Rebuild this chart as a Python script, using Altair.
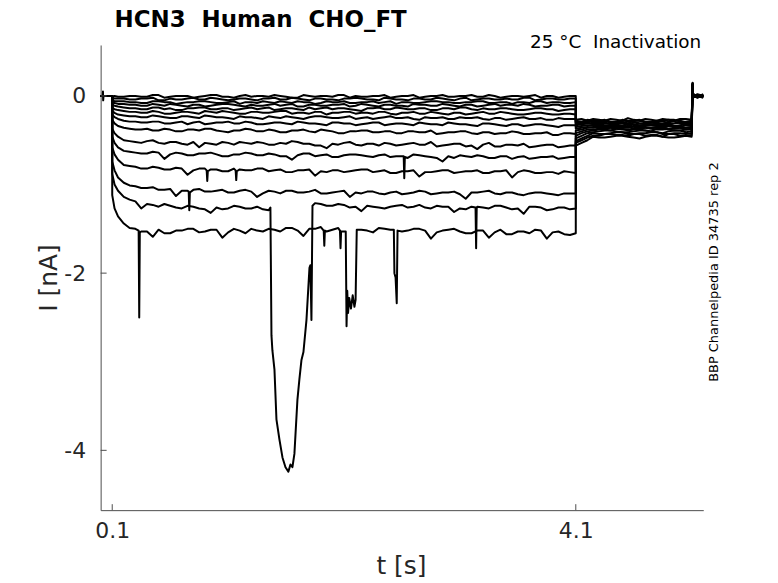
import altair as alt
import pandas as pd

TITLE = "HCN3\u00a0 Human\u00a0 CHO_FT"
SUBTITLE = "25 °C\u00a0 Inactivation"
SIDE = "BBP Channelpedia ID 34735 rep 2"
X_LABEL = "t [s]"
Y_LABEL = "I [nA]"
X_TICKS = [0.1, 4.1]
Y_TICKS = [0, -2, -4]
X_DOMAIN = [0.0, 5.2]
Y_DOMAIN = [-4.675, 0.575]

T_ONSET = [0.1, 0.12, 0.15]
T_MAIN = [0.2, 0.3, 0.4, 0.5, 0.6, 0.7, 0.8, 0.9, 1.0, 1.1, 1.2, 1.3, 1.4, 1.5, 1.6, 1.7, 1.8, 1.9, 2.0, 2.1,
          2.2, 2.3, 2.4, 2.5, 2.6, 2.7, 2.8, 2.9, 3.0, 3.1, 3.2, 3.3, 3.4, 3.5, 3.6, 3.7, 3.8, 3.9, 4.0, 4.1]
T_MID = [0.25, 0.35, 0.45, 0.55, 0.65, 0.75, 0.85, 0.95, 1.05, 1.15, 1.25, 1.35, 1.45, 1.55, 1.65, 1.75, 1.85,
         1.95, 2.05, 2.15, 2.25, 2.35, 2.45, 2.55, 2.65, 2.75, 2.85, 2.95, 3.05, 3.15, 3.25, 3.35, 3.45, 3.55,
         3.65, 3.75, 3.85, 3.95, 4.05]
T_TAIL = [4.1, 4.15, 4.2, 4.3, 4.4, 4.5, 4.6, 4.7, 4.8, 4.9, 5.0, 5.1]
T_TAIL_MID = [4.25, 4.35, 4.45, 4.55, 4.65, 4.75, 4.85, 4.95, 5.05]
T_END = [5.108, 5.112, 5.15, 5.2]

BLIP = [(0.018, 0.0), (0.02, 0.05), (0.022, -0.05), (0.025, 0.0)]

ONSET = [
    [-0.01, 0.0, -0.01],
    [-0.02, -0.03, -0.03],
    [-0.05, -0.06, -0.06],
    [-0.07, -0.08, -0.09],
    [-0.10, -0.11, -0.12],
    [-0.13, -0.15, -0.16],
    [-0.17, -0.19, -0.21],
    [-0.21, -0.24, -0.26],
    [-0.27, -0.31, -0.34],
    [-0.37, -0.42, -0.46],
    [-0.46, -0.53, -0.58],
    [-0.58, -0.66, -0.72],
    [-0.74, -0.84, -0.92],
    [-0.88, -1.00, -1.07],
    [-1.12, -1.27, -1.36],
]

MAIN = [
    [-0.01, 0.00, -0.01, 0.01, -0.01, 0.00, -0.02, 0.00, 0.01, -0.01, 0.00, -0.01, 0.00, 0.01, -0.01, -0.02, 0.00, 0.00, -0.01, 0.01,
     0.00, -0.01, 0.00, -0.02, 0.00, 0.01, -0.01, 0.00, -0.01, 0.00, 0.01, -0.01, 0.00, -0.01, 0.00, 0.00, -0.02, 0.00, -0.01, 0.00],
    [-0.03, -0.04, -0.03, -0.05, -0.03, -0.04, -0.02, -0.04, -0.03, -0.05, -0.03, -0.04, -0.03, -0.02, -0.04, -0.03, -0.05, -0.03, -0.04, -0.03,
     -0.02, -0.04, -0.05, -0.03, -0.04, -0.03, -0.04, -0.02, -0.04, -0.03, -0.05, -0.03, -0.04, -0.03, -0.04, -0.02, -0.04, -0.03, -0.04, -0.03],
    [-0.06, -0.07, -0.08, -0.06, -0.07, -0.08, -0.07, -0.06, -0.08, -0.07, -0.09, -0.07, -0.06, -0.08, -0.07, -0.06, -0.07, -0.08, -0.07, -0.06,
     -0.08, -0.07, -0.08, -0.06, -0.07, -0.08, -0.07, -0.06, -0.07, -0.08, -0.07, -0.06, -0.08, -0.07, -0.07, -0.08, -0.06, -0.07, -0.08, -0.07],
    [-0.09, -0.10, -0.11, -0.10, -0.09, -0.11, -0.10, -0.12, -0.10, -0.09, -0.11, -0.10, -0.11, -0.09, -0.10, -0.12, -0.10, -0.11, -0.10, -0.09,
     -0.11, -0.10, -0.12, -0.10, -0.11, -0.09, -0.10, -0.11, -0.10, -0.12, -0.10, -0.11, -0.09, -0.10, -0.11, -0.10, -0.11, -0.10, -0.12, -0.11],
    [-0.13, -0.14, -0.15, -0.13, -0.14, -0.16, -0.14, -0.13, -0.15, -0.14, -0.15, -0.13, -0.14, -0.16, -0.14, -0.15, -0.13, -0.14, -0.15, -0.14,
     -0.16, -0.14, -0.13, -0.15, -0.14, -0.15, -0.14, -0.16, -0.14, -0.13, -0.15, -0.14, -0.15, -0.14, -0.16, -0.15, -0.14, -0.15, -0.16, -0.15],
    [-0.17, -0.18, -0.19, -0.18, -0.20, -0.18, -0.19, -0.17, -0.19, -0.18, -0.20, -0.18, -0.19, -0.18, -0.17, -0.19, -0.20, -0.18, -0.19, -0.18,
     -0.20, -0.19, -0.18, -0.20, -0.19, -0.18, -0.20, -0.19, -0.21, -0.19, -0.20, -0.18, -0.20, -0.19, -0.21, -0.20, -0.19, -0.21, -0.20, -0.21],
    [-0.22, -0.23, -0.24, -0.23, -0.25, -0.23, -0.24, -0.22, -0.24, -0.25, -0.23, -0.24, -0.26, -0.24, -0.23, -0.25, -0.24, -0.23, -0.25, -0.24,
     -0.26, -0.24, -0.25, -0.23, -0.25, -0.26, -0.24, -0.25, -0.26, -0.24, -0.25, -0.26, -0.25, -0.27, -0.25, -0.26, -0.25, -0.27, -0.26, -0.26],
    [-0.28, -0.29, -0.30, -0.29, -0.31, -0.29, -0.30, -0.32, -0.30, -0.29, -0.31, -0.30, -0.32, -0.30, -0.31, -0.29, -0.31, -0.32, -0.30, -0.31,
     -0.33, -0.31, -0.30, -0.32, -0.31, -0.33, -0.31, -0.32, -0.30, -0.32, -0.33, -0.31, -0.32, -0.34, -0.32, -0.33, -0.32, -0.34, -0.33, -0.33],
    [-0.36, -0.38, -0.37, -0.39, -0.38, -0.40, -0.38, -0.37, -0.39, -0.41, -0.39, -0.38, -0.40, -0.39, -0.41, -0.39, -0.40, -0.38, -0.40, -0.42,
     -0.40, -0.39, -0.41, -0.40, -0.42, -0.40, -0.41, -0.43, -0.41, -0.40, -0.42, -0.41, -0.43, -0.42, -0.41, -0.43, -0.42, -0.44, -0.42, -0.43],
    [-0.50, -0.52, -0.51, -0.53, -0.52, -0.54, -0.52, -0.53, -0.55, -0.53, -0.52, -0.54, -0.53, -0.55, -0.54, -0.52, -0.54, -0.56, -0.54, -0.53,
     -0.55, -0.54, -0.56, -0.54, -0.55, -0.53, -0.55, -0.57, -0.55, -0.54, -0.56, -0.55, -0.57, -0.55, -0.56, -0.58, -0.56, -0.55, -0.57, -0.56],
    [-0.62, -0.64, -0.65, -0.64, -0.66, -0.65, -0.67, -0.65, -0.66, -0.68, -0.66, -0.65, -0.67, -0.66, -0.68, -0.67, -0.65, -0.67, -0.69, -0.67,
     -0.66, -0.68, -0.67, -0.69, -0.68, -0.66, -0.68, -0.70, -0.68, -0.67, -0.69, -0.68, -0.70, -0.68, -0.69, -0.71, -0.69, -0.68, -0.70, -0.69],
    [-0.78, -0.80, -0.82, -0.81, -0.83, -0.82, -0.84, -0.82, -0.83, -0.85, -0.83, -0.84, -0.82, -0.84, -0.86, -0.84, -0.83, -0.85, -0.84, -0.86,
     -0.84, -0.83, -0.85, -0.87, -0.85, -0.84, -0.86, -0.85, -0.84, -0.86, -0.85, -0.87, -0.85, -0.84, -0.86, -0.85, -0.87, -0.86, -0.85, -0.87],
    [-0.98, -1.02, -1.04, -1.06, -1.05, -1.07, -1.06, -1.08, -1.07, -1.09, -1.07, -1.08, -1.10, -1.08, -1.07, -1.09, -1.08, -1.10, -1.09, -1.07,
     -1.09, -1.08, -1.10, -1.09, -1.11, -1.09, -1.08, -1.10, -1.09, -1.11, -1.09, -1.08, -1.10, -1.09, -1.11, -1.10, -1.09, -1.11, -1.10, -1.10],
    [-1.14, -1.19, -1.22, -1.25, -1.24, -1.27, -1.25, -1.28, -1.26, -1.27, -1.25, -1.27, -1.28, None, None, None, None, -1.22, -1.24, -1.23,
     -1.25, -1.24, -1.26, -1.25, -1.23, -1.25, -1.26, -1.24, -1.25, -1.27, -1.25, -1.26, -1.24, -1.26, -1.27, -1.25, -1.26, -1.28, -1.26, -1.27],
    [-1.44, -1.50, -1.53, -1.51, -1.55, -1.52, -1.50, -1.53, -1.51, -1.54, -1.52, -1.50, -1.53, -1.51, -1.49, -1.52, -1.50, -1.48, -1.51, -1.53,
     None, -1.52, -1.49, -1.51, -1.53, -1.50, -1.52, -1.54, -1.51, -1.53, -1.55, -1.52, -1.54, -1.56, -1.53, -1.55, -1.52, -1.54, -1.56, -1.55],
]

MID = [
    [0.00, -0.01, 0.01, -0.02, 0.00, 0.00, -0.01, 0.01, -0.01, -0.02, 0.01, 0.00, -0.01, 0.00, -0.02, 0.01, -0.01, 0.00, 0.01, -0.02,
     -0.01, 0.00, 0.01, -0.01, 0.00, -0.02, 0.00, 0.01, -0.01, 0.00, -0.01, 0.01, -0.02, 0.00, -0.01, 0.01, 0.00, -0.02, 0.00],
    [-0.04, -0.03, -0.02, -0.05, -0.04, -0.03, -0.04, -0.02, -0.04, -0.04, -0.03, -0.05, -0.03, -0.04, -0.02, -0.04, -0.03, -0.04, -0.05, -0.03,
     -0.03, -0.04, -0.02, -0.04, -0.05, -0.03, -0.04, -0.03, -0.05, -0.02, -0.04, -0.03, -0.04, -0.04, -0.02, -0.05, -0.03, -0.04, -0.03],
    [-0.07, -0.08, -0.06, -0.07, -0.09, -0.07, -0.06, -0.07, -0.08, -0.06, -0.07, -0.08, -0.07, -0.06, -0.08, -0.07, -0.09, -0.06, -0.07, -0.08,
     -0.07, -0.06, -0.07, -0.09, -0.07, -0.08, -0.06, -0.07, -0.08, -0.07, -0.06, -0.08, -0.07, -0.09, -0.07, -0.06, -0.08, -0.07, -0.08],
    [-0.10, -0.11, -0.09, -0.11, -0.10, -0.12, -0.10, -0.11, -0.09, -0.10, -0.12, -0.11, -0.10, -0.11, -0.09, -0.12, -0.10, -0.11, -0.10, -0.12,
     -0.09, -0.11, -0.10, -0.11, -0.12, -0.10, -0.11, -0.09, -0.11, -0.10, -0.12, -0.10, -0.11, -0.10, -0.09, -0.12, -0.11, -0.10, -0.11],
    [-0.14, -0.15, -0.13, -0.15, -0.16, -0.14, -0.13, -0.15, -0.14, -0.16, -0.14, -0.15, -0.13, -0.15, -0.14, -0.16, -0.15, -0.13, -0.14, -0.15,
     -0.17, -0.14, -0.15, -0.13, -0.15, -0.14, -0.16, -0.14, -0.15, -0.13, -0.16, -0.15, -0.14, -0.15, -0.16, -0.14, -0.15, -0.17, -0.15],
    [-0.18, -0.19, -0.17, -0.20, -0.19, -0.18, -0.20, -0.18, -0.17, -0.19, -0.20, -0.18, -0.19, -0.17, -0.20, -0.19, -0.18, -0.21, -0.19, -0.18,
     -0.19, -0.20, -0.18, -0.21, -0.19, -0.20, -0.18, -0.20, -0.19, -0.21, -0.19, -0.20, -0.18, -0.20, -0.21, -0.19, -0.20, -0.21, -0.20],
    [-0.23, -0.24, -0.22, -0.24, -0.25, -0.23, -0.25, -0.23, -0.24, -0.26, -0.24, -0.25, -0.23, -0.25, -0.24, -0.26, -0.23, -0.24, -0.25, -0.23,
     -0.25, -0.26, -0.24, -0.25, -0.24, -0.27, -0.25, -0.24, -0.26, -0.25, -0.24, -0.27, -0.25, -0.26, -0.24, -0.26, -0.27, -0.25, -0.26],
    [-0.29, -0.30, -0.29, -0.31, -0.30, -0.32, -0.29, -0.31, -0.30, -0.31, -0.29, -0.32, -0.31, -0.30, -0.32, -0.30, -0.31, -0.33, -0.30, -0.31,
     -0.32, -0.30, -0.33, -0.31, -0.32, -0.30, -0.32, -0.33, -0.31, -0.32, -0.34, -0.31, -0.33, -0.32, -0.34, -0.32, -0.33, -0.35, -0.33],
    [-0.37, -0.38, -0.39, -0.37, -0.40, -0.38, -0.39, -0.37, -0.40, -0.39, -0.37, -0.40, -0.38, -0.41, -0.39, -0.38, -0.41, -0.39, -0.42, -0.40,
     -0.39, -0.41, -0.40, -0.42, -0.40, -0.41, -0.39, -0.42, -0.41, -0.40, -0.43, -0.41, -0.42, -0.40, -0.43, -0.42, -0.41, -0.44, -0.42],
    [-0.51, -0.53, -0.50, -0.54, -0.52, -0.55, -0.58, -0.54, -0.52, -0.55, -0.53, -0.52, -0.55, -0.53, -0.51, -0.54, -0.56, -0.59, -0.55, -0.52,
     -0.56, -0.54, -0.53, -0.56, -0.54, -0.55, -0.52, -0.56, -0.54, -0.57, -0.60, -0.53, -0.57, -0.55, -0.54, -0.57, -0.55, -0.58, -0.56],
    [-0.63, -0.65, -0.63, -0.71, -0.64, -0.67, -0.65, -0.64, -0.68, -0.66, -0.64, -0.67, -0.65, -0.68, -0.72, -0.65, -0.68, -0.66, -0.69, -0.66,
     -0.67, -0.69, -0.66, -0.68, -0.70, -0.67, -0.69, -0.74, -0.70, -0.68, -0.67, -0.70, -0.68, -0.71, -0.68, -0.70, -0.69, -0.71, -0.69],
    [-0.79, -0.82, -0.80, -0.83, -0.81, -0.89, -0.82, -0.83, -0.85, -0.82, -0.84, -0.82, -0.85, -0.83, -0.86, -0.84, -0.90, -0.86, -0.84, -0.85,
     -0.83, -0.86, -0.84, -0.87, -0.85, -0.91, -0.86, -0.84, -0.87, -0.85, -0.84, -0.87, -0.85, -0.92, -0.84, -0.87, -0.86, -0.88, -0.86],
    [-1.01, -1.04, -1.03, -1.06, -1.13, -1.07, -1.05, -1.08, -1.06, -1.09, -1.06, -1.14, -1.07, -1.10, -1.07, -1.09, -1.06, -1.10, -1.08, -1.14,
     -1.10, -1.08, -1.11, -1.08, -1.10, -1.07, -1.11, -1.09, -1.08, -1.16, -1.09, -1.07, -1.11, -1.09, -1.12, -1.09, -1.10, -1.12, -1.10],
    [-1.17, -1.27, -1.23, -1.22, -1.26, -1.24, -1.27, -1.32, -1.28, -1.24, -1.27, -1.25, -1.29, None, None, None, -1.21, -1.24, -1.22, -1.26,
     -1.30, -1.25, -1.27, -1.24, -1.26, -1.23, -1.27, -1.25, -1.31, -1.28, -1.25, -1.27, -1.24, -1.28, -1.33, -1.25, -1.29, -1.26, -1.28],
    [-1.49, -1.53, -1.59, -1.55, -1.52, -1.50, -1.54, -1.51, -1.60, -1.50, -1.55, -1.52, -1.50, -1.53, -1.49, -1.58, -1.50, -1.53, -1.49, None,
     -1.51, -1.54, -1.50, None, -1.52, -1.50, -1.61, -1.52, -1.50, -1.55, -1.52, -1.60, -1.51, -1.56, -1.53, -1.51, -1.61, -1.53, -1.57],
]

EXTRA = {
    10: [(2.615, -0.68), (2.62, -0.93), (2.625, -0.69)],
    11: [(0.915, -0.84), (0.92, -0.96), (0.925, -0.85), (1.165, -0.84), (1.17, -0.95), (1.175, -0.85)],
    12: [(0.76, -1.08), (0.765, -1.29), (0.77, -1.09)],
    13: [(1.465, -1.26), (1.474, -2.70), (1.482, -2.87), (1.50, -3.09), (1.517, -3.65), (1.543, -3.88),
         (1.569, -4.08), (1.595, -4.19), (1.62, -4.24), (1.638, -4.16), (1.655, -4.19), (1.672, -4.04),
         (1.698, -3.43), (1.715, -3.20), (1.733, -2.98), (1.75, -2.89), (1.776, -2.53), (1.802, -1.94),
         (1.81, -1.91), (1.819, -2.53), (1.828, -1.24),
         (3.235, -1.26), (3.24, -1.72), (3.245, -1.27)],
    14: [(0.328, -1.52), (0.333, -2.50), (0.338, -1.54),
         (1.925, -1.52), (1.93, -1.69), (1.935, -1.52),
         (2.065, -1.52), (2.07, -1.72), (2.075, -1.53),
         (2.115, -1.53), (2.122, -2.60), (2.128, -2.20), (2.135, -2.45), (2.145, -2.28), (2.16, -2.40),
         (2.175, -2.25), (2.19, -2.38), (2.20, -2.30), (2.21, -1.51),
         (2.53, -1.51), (2.535, -2.00), (2.545, -2.05), (2.555, -2.34), (2.562, -1.52)],
}

TAIL = [
    [-0.27, -0.26, -0.28, -0.27, -0.26, -0.28, -0.27, -0.26, -0.28, -0.27, -0.26, -0.27],
    [-0.28, -0.29, -0.27, -0.28, -0.29, -0.27, -0.28, -0.29, -0.28, -0.27, -0.29, -0.28],
    [-0.29, -0.30, -0.28, -0.29, -0.30, -0.29, -0.28, -0.30, -0.29, -0.30, -0.28, -0.29],
    [-0.30, -0.31, -0.29, -0.30, -0.31, -0.30, -0.29, -0.31, -0.30, -0.29, -0.31, -0.30],
    [-0.31, -0.32, -0.30, -0.31, -0.32, -0.31, -0.30, -0.32, -0.31, -0.32, -0.30, -0.31],
    [-0.33, -0.32, -0.31, -0.32, -0.33, -0.31, -0.32, -0.33, -0.32, -0.31, -0.33, -0.32],
    [-0.35, -0.34, -0.33, -0.34, -0.33, -0.34, -0.35, -0.33, -0.34, -0.33, -0.35, -0.34],
    [-0.37, -0.36, -0.35, -0.34, -0.35, -0.36, -0.34, -0.35, -0.36, -0.34, -0.35, -0.35],
    [-0.39, -0.38, -0.36, -0.35, -0.36, -0.35, -0.37, -0.36, -0.35, -0.37, -0.36, -0.36],
    [-0.42, -0.40, -0.38, -0.37, -0.36, -0.38, -0.37, -0.36, -0.38, -0.37, -0.36, -0.37],
    [-0.45, -0.42, -0.40, -0.38, -0.39, -0.37, -0.38, -0.39, -0.37, -0.38, -0.39, -0.38],
    [-0.48, -0.45, -0.42, -0.40, -0.39, -0.41, -0.40, -0.39, -0.41, -0.40, -0.39, -0.40],
    [-0.51, -0.48, -0.45, -0.43, -0.42, -0.41, -0.43, -0.42, -0.41, -0.43, -0.42, -0.42],
    [-0.53, -0.50, -0.47, -0.45, -0.43, -0.44, -0.43, -0.45, -0.44, -0.43, -0.45, -0.44],
    [-0.56, -0.53, -0.50, -0.47, -0.46, -0.45, -0.47, -0.46, -0.45, -0.47, -0.46, -0.46],
]

TAIL_MID = [
    [-0.26, -0.28, -0.27, -0.25, -0.28, -0.27, -0.26, -0.28, -0.26],
    [-0.28, -0.27, -0.29, -0.28, -0.27, -0.29, -0.28, -0.27, -0.29],
    [-0.30, -0.28, -0.29, -0.31, -0.28, -0.30, -0.29, -0.28, -0.30],
    [-0.29, -0.31, -0.30, -0.29, -0.31, -0.30, -0.32, -0.29, -0.31],
    [-0.32, -0.30, -0.31, -0.33, -0.31, -0.30, -0.32, -0.31, -0.30],
    [-0.31, -0.33, -0.32, -0.31, -0.33, -0.32, -0.31, -0.34, -0.32],
    [-0.33, -0.35, -0.34, -0.32, -0.35, -0.33, -0.34, -0.35, -0.33],
    [-0.36, -0.34, -0.35, -0.36, -0.34, -0.36, -0.35, -0.34, -0.36],
    [-0.35, -0.37, -0.36, -0.34, -0.37, -0.36, -0.35, -0.37, -0.36],
    [-0.38, -0.36, -0.37, -0.38, -0.36, -0.37, -0.38, -0.36, -0.38],
    [-0.39, -0.38, -0.37, -0.39, -0.38, -0.40, -0.37, -0.39, -0.38],
    [-0.41, -0.39, -0.40, -0.41, -0.39, -0.40, -0.42, -0.39, -0.41],
    [-0.42, -0.43, -0.41, -0.43, -0.42, -0.41, -0.43, -0.42, -0.43],
    [-0.45, -0.43, -0.44, -0.45, -0.43, -0.44, -0.46, -0.43, -0.45],
    [-0.46, -0.47, -0.45, -0.46, -0.48, -0.45, -0.46, -0.47, -0.45],
]

END = [
    [0.15, 0.00, -0.01, 0.00],
    [0.13, 0.01, 0.00, -0.01],
    [0.12, -0.01, 0.01, 0.00],
    [0.14, 0.00, -0.02, 0.01],
    [0.11, 0.01, 0.00, -0.01],
    [0.13, -0.02, 0.01, 0.00],
    [0.12, 0.00, -0.01, 0.02],
    [0.10, 0.02, 0.00, -0.01],
    [0.14, -0.01, 0.01, 0.00],
    [0.12, 0.00, -0.02, 0.01],
    [0.11, 0.01, 0.00, -0.02],
    [0.13, -0.01, 0.02, 0.00],
    [0.10, 0.00, -0.01, 0.01],
    [0.12, 0.02, 0.00, -0.01],
    [0.14, -0.01, 0.01, 0.00],
]

for name, arr, n in (("ONSET", ONSET, 3), ("MAIN", MAIN, 40), ("MID", MID, 39), ("TAIL", TAIL, 12),
                     ("TAIL_MID", TAIL_MID, 9), ("END", END, 4)):
    for k, row in enumerate(arr):
        assert len(row) == n, (name, k, len(row))

rows = []
for k in range(15):
    pts = [(0.0, 0.0)] + (BLIP if k == 0 else []) + [(0.1, 0.0)]
    pts += list(zip(T_ONSET, ONSET[k]))
    pts += [(t, v) for t, v in zip(T_MAIN, MAIN[k]) if v is not None]
    pts += [(t, v) for t, v in zip(T_MID, MID[k]) if v is not None]
    pts += EXTRA.get(k, [])
    pts += list(zip(T_TAIL, TAIL[k]))
    pts += list(zip(T_TAIL_MID, TAIL_MID[k]))
    pts += list(zip(T_END, END[k]))
    pts = sorted(pts, key=lambda p: p[0])
    for i, (t, v) in enumerate(pts):
        rows.append({"trace": k, "i": i, "t": t, "I": v})
df = pd.DataFrame(rows)

FONT = "DejaVu Sans"
TXT = "#262626"
AXC = "#4d4d4d"
W, H = 605, 467

xs = alt.Scale(domain=X_DOMAIN, nice=False, zero=False)
ys = alt.Scale(domain=Y_DOMAIN, nice=False, zero=False)

AX_X = alt.Axis(values=X_TICKS, labelExpr="toString(datum.value)", ticks=False, grid=False, title=None,
                labelFontSize=22, labelFont=FONT, labelColor=TXT, labelPadding=10, domainColor=AXC,
                domainWidth=1, labelFlush=False)
AX_Y = alt.Axis(values=Y_TICKS, labelExpr="toString(datum.value)", ticks=False, grid=False, title=None,
                labelFontSize=22, labelFont=FONT, labelColor=TXT, labelPadding=15, domainColor=AXC,
                domainWidth=1, labelFlush=False)

lines = alt.Chart(df).mark_line(color="black", strokeWidth=2, strokeJoin="round").encode(
    x=alt.X("t:Q", scale=xs, axis=AX_X),
    y=alt.Y("I:Q", scale=ys, axis=AX_Y),
    detail="trace:N",
    order="i:Q",
)

xt = alt.Chart(pd.DataFrame({"t": X_TICKS})).mark_rule(color=AXC, strokeWidth=1).encode(
    x=alt.X("t:Q", scale=xs, axis=AX_X), y=alt.value(H), y2=alt.value(H - 6))
yt = alt.Chart(pd.DataFrame({"I": Y_TICKS})).mark_rule(color=AXC, strokeWidth=1).encode(
    y=alt.Y("I:Q", scale=ys, axis=AX_Y), x=alt.value(0), x2=alt.value(6))


def label(text, x, y, size, **kw):
    return alt.Chart(pd.DataFrame({"s": [text]})).mark_text(font=FONT, fontSize=size, color=kw.pop("color", TXT),
                                                           **kw).encode(
        x=alt.value(x), y=alt.value(y), text="s:N")


title = label(TITLE, 14, -18, 23, fontWeight="bold", align="left", baseline="alphabetic", color="#000000")
sub = label(SUBTITLE, 603, 3, 18.5, align="right", baseline="alphabetic", color="#000000")
side = label(SIDE, 616, 228, 13, angle=270, align="center", baseline="middle", color="#000000")
xl = label(X_LABEL, 302, 523, 25, align="center", baseline="middle")
yl = label(Y_LABEL, -52, 234, 25, angle=270, align="center", baseline="middle")

chart = alt.layer(lines, xt, yt, title, sub, side, xl, yl).properties(
    width=W, height=H,
    autosize=alt.AutoSizeParams(type="none"),
    padding={"left": 93, "top": 36, "right": 67, "bottom": 69},
    background="white",
).configure_view(stroke=None)

chart.save("out.html", embed_options={"renderer": "svg", "actions": False})
